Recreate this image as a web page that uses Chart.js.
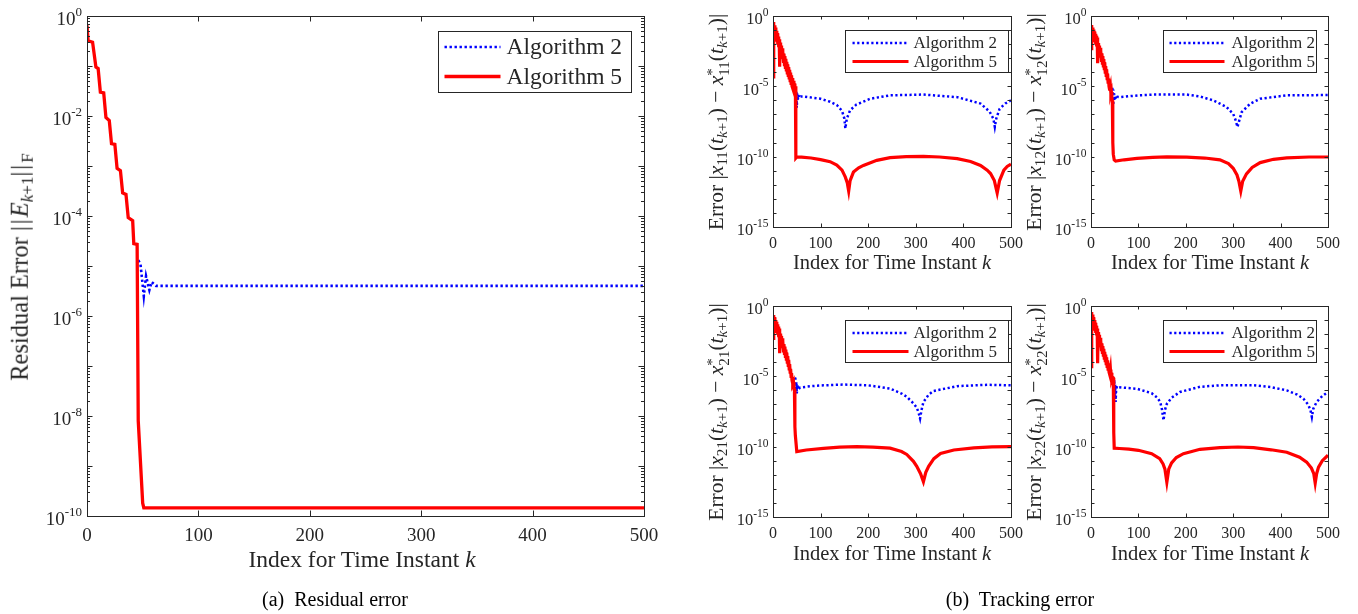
<!DOCTYPE html>
<html>
<head>
<meta charset="utf-8">
<script src="https://cdn.jsdelivr.net/npm/chart.js@4.4.1/dist/chart.umd.min.js"></script>
<style>
  body { margin: 0; width: 1358px; height: 614px; position: relative; overflow: hidden; background: #fff;
         font-family: "Liberation Serif", "Times New Roman", serif; color: #262626; }
  .frame { position: absolute; }
  .t { position: absolute; white-space: nowrap; line-height: 1; transform: translate(-50%, -50%); }
  .rot { transform: translate(-50%, -50%) rotate(-90deg); }
  sub { font-size: 70%; vertical-align: -0.3em; line-height: 0; }
  .ss { display: inline-block; font-size: 70%; line-height: 0.8; vertical-align: -0.42em; }
  .ss span { display: block; }
  .bars { letter-spacing: 0.08em; }
  .cap { color: #000; }
</style>
</head>
<body>
<div class="frame" id="fa" style="left:0;top:0;width:690px;height:585px"><canvas id="ca"></canvas></div>
<div class="frame" id="f11" style="left:690px;top:0;width:345px;height:290px"><canvas id="c11"></canvas></div>
<div class="frame" id="f12" style="left:1030px;top:0;width:328px;height:290px"><canvas id="c12"></canvas></div>
<div class="frame" id="f21" style="left:690px;top:290px;width:345px;height:300px"><canvas id="c21"></canvas></div>
<div class="frame" id="f22" style="left:1030px;top:290px;width:328px;height:300px"><canvas id="c22"></canvas></div>

<div class="t rot" style="left:20px;top:267px;font-size:24.5px">Residual Error <span class="bars">||</span><i>E</i><sub><i>k</i>+1</sub><span class="bars">||</span><sub>F</sub></div>
<div class="t" style="left:362px;top:560px;font-size:23.5px">Index for Time Instant <i>k</i></div>
<div class="t cap" style="left:335px;top:599px;font-size:20px">(a)&nbsp; Residual error</div>
<div class="t cap" style="left:1020px;top:599px;font-size:20px">(b)&nbsp; Tracking error</div>

<div class="t" style="left:892px;top:262px;font-size:20.5px">Index for Time Instant <i>k</i></div>
<div class="t" style="left:1210px;top:262px;font-size:20.5px">Index for Time Instant <i>k</i></div>
<div class="t" style="left:892px;top:553px;font-size:20.5px">Index for Time Instant <i>k</i></div>
<div class="t" style="left:1210px;top:553px;font-size:20.5px">Index for Time Instant <i>k</i></div>

<div class="t rot" style="left:718px;top:122px;font-size:21.5px">Error |<i>x</i><sub>11</sub>(<i>t</i><sub><i>k</i>+1</sub>) &minus; <i>x</i><span class="ss"><span>*</span><span>11</span></span>(<i>t</i><sub><i>k</i>+1</sub>)|</div>
<div class="t rot" style="left:1036px;top:122px;font-size:21.5px">Error |<i>x</i><sub>12</sub>(<i>t</i><sub><i>k</i>+1</sub>) &minus; <i>x</i><span class="ss"><span>*</span><span>12</span></span>(<i>t</i><sub><i>k</i>+1</sub>)|</div>
<div class="t rot" style="left:718px;top:412px;font-size:21.5px">Error |<i>x</i><sub>21</sub>(<i>t</i><sub><i>k</i>+1</sub>) &minus; <i>x</i><span class="ss"><span>*</span><span>21</span></span>(<i>t</i><sub><i>k</i>+1</sub>)|</div>
<div class="t rot" style="left:1036px;top:412px;font-size:21.5px">Error |<i>x</i><sub>22</sub>(<i>t</i><sub><i>k</i>+1</sub>) &minus; <i>x</i><span class="ss"><span>*</span><span>22</span></span>(<i>t</i><sub><i>k</i>+1</sub>)|</div>

<script>
// ---- data: [k, value] pairs ----
const kTicks = [0, 100, 200, 300, 400, 500];
const seriesNames = ["Algorithm 2", "Algorithm 5"];
const resLabels = [1e0, 1e-2, 1e-4, 1e-6, 1e-8, 1e-10];
const errLabels = [1e0, 1e-5, 1e-10, 1e-15];

// residual error ||E_{k+1}||_F
const resAlg2 = [[46,1.3e-5],[48,1.1e-5],[51,2.5e-6],[53,6.3e-6],[56,3.3e-6],[58,4.8e-6],[62,4e-6],[500,4e-6]];
const resAlg5 = [[0,0.65],[1,0.32],[5,0.30],[8,0.095],[10,0.089],[12,0.030],[15,0.029],[17,0.0093],[20,0.0081],
  [22,0.0028],[25,0.0027],[27,9e-4],[30,8.1e-4],[32,2.9e-4],[35,2.7e-4],[37,9.3e-5],[41,8.1e-5],[42,2.8e-5],
  [45,2.7e-5],[46,8e-9],[50,1.8e-10],[51,1.45e-10],[500,1.45e-10]];

// tracking error, entry (1,1)
const x11Alg2 = [[47,8e-6],[48,1.5e-6],[49,5e-6],[50,3e-7],[51,3e-6],[52,1e-6],[53,2.4e-6],[55,1.5e-6],[58,1.9e-6],
  [64,1.9e-6],[100,1.3e-6],[120,8e-7],[134,4.7e-7],[145,1.8e-7],[150,5e-8],[152,1e-8],[155,5e-8],[162,2e-7],
  [175,5e-7],[204,1.3e-6],[246,2.3e-6],[316,2.6e-6],[387,1.7e-6],[436,6e-7],[455,1.6e-7],[463,5e-8],[466,1.3e-8],
  [469,5e-8],[476,2.5e-7],[488,6e-7],[500,1e-6]];
const x11Alg5 = [[0,4.6e-5],[1,0.37],[2,0.06],[3,0.22],[4,0.04],[5,0.15],[6,0.025],[7,0.09],[8,0.015],[9,0.06],
  [10,0.01],[11,0.035],[12,0.006],[13,0.022],[14,2.5e-4],[15,0.013],[16,0.0025],[17,0.008],[18,0.0015],[19,0.005],
  [20,9e-4],[21,0.0032],[22,6e-4],[23,0.0021],[24,3.5e-4],[25,0.0014],[26,2.2e-4],[27,9e-4],[28,1.5e-4],[29,5.5e-4],
  [30,9e-5],[31,3.6e-4],[32,6e-5],[33,2.3e-4],[34,4e-5],[35,1.5e-4],[36,2.5e-5],[37,9.5e-5],[38,1.6e-5],[39,6e-5],
  [40,1e-5],[41,3.9e-5],[42,7e-6],[43,2.5e-5],[44,5e-6],[45,1.6e-5],[46,4e-6],[47,1e-5],[48,8e-11],[50,9.5e-11],
  [60,9.3e-11],[80,8e-11],[100,6.2e-11],[120,4.4e-11],[134,2.5e-11],[145,1.1e-11],[152,3.5e-12],[156,1.4e-12],
  [159,3.6e-13],[162,2e-12],[169,8e-12],[180,1.6e-11],[190,2.4e-11],[218,5.5e-11],[246,8.5e-11],[280,1e-10],
  [316,1.05e-10],[350,9.5e-11],[387,7.2e-11],[415,4.5e-11],[436,2.4e-11],[450,1.1e-11],[457,6.3e-12],[465,2e-12],
  [471,2.6e-13],[476,2e-12],[485,1.1e-11],[492,2e-11],[500,2.9e-11]];

// tracking error, entry (1,2)
const x12Alg2 = [[45,8e-6],[46,2e-6],[47,6e-6],[48,6e-7],[49,3e-6],[50,1e-6],[51,2.2e-6],[53,1.2e-6],[56,1.8e-6],
  [62,1.7e-6],[100,2.3e-6],[132,2.6e-6],[202,2.6e-6],[230,1.9e-6],[258,1e-6],[286,3.4e-7],[300,1.1e-7],[305,4e-8],
  [309,1.3e-8],[313,4e-8],[318,1.5e-7],[336,5.9e-7],[357,1.3e-6],[413,2.3e-6],[500,2.4e-6]];
const x12Alg5 = [[0,4.8e-3],[1,0.23],[2,0.02],[3,0.15],[4,0.03],[5,0.11],[6,0.02],[7,0.08],[8,0.014],[9,0.055],
  [10,0.01],[11,0.04],[12,0.007],[13,0.03],[14,4.4e-4],[15,0.012],[16,0.003],[17,0.008],[18,0.0018],[19,0.0055],
  [20,0.0011],[21,0.0035],[22,7e-4],[23,0.0022],[24,4.5e-4],[25,0.0014],[26,2.8e-4],[27,8.5e-4],[28,1.8e-4],
  [29,5e-4],[30,1e-4],[31,2.8e-4],[32,6e-5],[33,1.6e-4],[34,3.5e-5],[35,8e-5],[36,2e-5],[37,3.5e-5],[38,1e-5],
  [39,1.8e-5],[40,5e-6],[41,9e-6],[42,3e-6],[43,4e-6],[44,1.4e-6],[45,1e-6],[46,1e-9],[47,1.5e-10],[49,5.8e-11],
  [52,4.8e-11],[70,6e-11],[97,7.5e-11],[130,9e-11],[160,9.7e-11],[202,9.3e-11],[240,8e-11],[272,6e-11],[290,3.2e-11],
  [300,1.5e-11],[308,5e-12],[312,1.8e-12],[316,3.6e-13],[320,1.8e-12],[328,6e-12],[340,1.7e-11],[357,3.8e-11],
  [385,6.5e-11],[413,8.3e-11],[460,9.5e-11],[500,9.5e-11]];

// tracking error, entry (2,1)
const x21Alg2 = [[46,8e-6],[47,6.9e-6],[48,1e-6],[49,4e-6],[50,6e-7],[51,2.5e-6],[53,1.2e-6],[57,1.6e-6],[80,2e-6],
  [106,2.3e-6],[150,2.6e-6],[200,2.3e-6],[246,1.35e-6],[270,6e-7],[281,3.5e-7],[295,1.2e-7],[302,6e-8],[306,2.5e-8],
  [309,1e-8],[312,4e-8],[316,1.5e-7],[327,5e-7],[337,9e-7],[387,2e-6],[450,2.5e-6],[500,2.3e-6]];
const x21Alg5 = [[0,5e-3],[1,0.23],[2,0.025],[3,0.16],[4,0.03],[5,0.1],[6,0.02],[7,0.075],[8,0.012],[9,0.05],
  [10,0.009],[11,0.035],[12,0.006],[13,0.025],[14,4.4e-4],[15,0.011],[16,0.0028],[17,0.0075],[18,0.0017],[19,0.005],
  [20,0.001],[21,0.0033],[22,6.5e-4],[23,0.002],[24,4.2e-4],[25,0.0013],[26,2.6e-4],[27,8e-4],[28,1.7e-4],[29,4.8e-4],
  [30,1e-4],[31,2.7e-4],[32,6e-5],[33,1.5e-4],[34,3.4e-5],[35,7.5e-5],[36,2e-5],[37,3.4e-5],[38,1e-5],[39,1.7e-5],
  [40,5e-6],[41,9e-6],[42,3e-6],[43,4e-6],[44,1.5e-6],[45,1.2e-6],[46,2.6e-9],[47,6e-10],[50,4.5e-11],[70,5.8e-11],
  [106,7.5e-11],[140,9.3e-11],[176,1e-10],[210,9.3e-11],[246,7.8e-11],[270,4.5e-11],[281,2.8e-11],[295,9e-12],
  [302,4e-12],[310,1.2e-12],[316,3.2e-13],[321,1.5e-12],[327,4e-12],[338,1.4e-11],[352,3.3e-11],[380,5.8e-11],
  [422,8.2e-11],[460,9.6e-11],[500,1e-10]];

// tracking error, entry (2,2)
const x22Alg2 = [[47,6e-6],[48,1.5e-6],[49,5.8e-6],[50,4e-7],[51,2.5e-6],[52,1.5e-7],[53,1.2e-6],[55,2e-6],[58,1.7e-6],
  [97,1.3e-6],[128,6.3e-7],[140,3e-7],[146,1.5e-7],[150,4e-8],[153,7.4e-9],[156,4e-8],[160,1.1e-7],[170,3e-7],
  [188,7.8e-7],[230,1.8e-6],[272,2.3e-6],[343,2.3e-6],[380,1.7e-6],[413,1e-6],[435,5e-7],[448,2.6e-7],[458,1e-7],
  [463,4e-8],[466,1.3e-8],[469,5e-8],[476,1.5e-7],[488,4e-7],[500,7.8e-7]];
const x22Alg5 = [[0,4.9e-5],[1,0.38],[2,0.05],[3,0.25],[4,0.04],[5,0.16],[6,0.028],[7,0.1],[8,0.018],[9,0.065],
  [10,0.012],[11,0.04],[12,0.008],[13,0.025],[14,8.5e-5],[15,0.014],[16,0.003],[17,0.009],[18,0.002],[19,0.0055],
  [20,0.0012],[21,0.0035],[22,8e-4],[23,0.0022],[24,5e-4],[25,0.0014],[26,3.2e-4],[27,9e-4],[28,2e-4],[29,5.5e-4],
  [30,1.3e-4],[31,3.5e-4],[32,8e-5],[33,2.2e-4],[34,5e-5],[35,1.4e-4],[36,3.2e-5],[37,8.5e-5],[38,2e-5],[39,5e-5],
  [40,1.3e-5],[41,3e-5],[42,9e-6],[43,1.8e-5],[44,7e-6],[45,9e-6],[47,8e-6],[48,1e-9],[49,7.8e-11],[60,7.4e-11],
  [80,6.6e-11],[100,5.5e-11],[128,3.2e-11],[145,1.4e-11],[152,6e-12],[156,2.5e-12],[160,3e-13],[164,2.5e-12],
  [170,7e-12],[180,1.7e-11],[195,3.2e-11],[230,6.5e-11],[272,8.5e-11],[310,9.5e-11],[343,8.5e-11],[380,6e-11],
  [413,4e-11],[440,1.8e-11],[455,8e-12],[465,3e-12],[470,1.2e-12],[473,2.6e-13],[476,1.2e-12],[480,3.5e-12],
  [488,1e-11],[500,2.5e-11]];

// ---- styling ----
const AXIS = "#262626";
const SERIF = '"Liberation Serif", "Times New Roman", serif';
const BLUE = "#0000ff", RED = "#ff0000";

// MATLAB-like box: inward ticks on all four sides, 10^n labels, framed legend
const matlabAxes = {
  id: "matlabAxes",
  afterDatasetsDraw(chart, args, o) {
    const { ctx, chartArea: a, scales: { x, y } } = chart;
    ctx.save();
    ctx.strokeStyle = AXIS;
    ctx.lineWidth = 1;
    ctx.beginPath();
    for (const t of x.ticks) {
      const px = Math.round(x.getPixelForValue(t.value)) + 0.5;
      ctx.moveTo(px, a.bottom); ctx.lineTo(px, a.bottom - o.tickLen);
      ctx.moveTo(px, a.top); ctx.lineTo(px, a.top + o.tickLen);
    }
    y.ticks.forEach((t, i) => {
      const py = Math.round(y.getPixelForValue(t.value)) + 0.5;
      ctx.moveTo(a.left, py); ctx.lineTo(a.left + o.tickLen, py);
      ctx.moveTo(a.right, py); ctx.lineTo(a.right - o.tickLen, py);
      // minor ticks 2..9 inside the decade below this one
      if (o.minor && i < y.ticks.length - 1) {
        for (let m = 2; m <= 9; m++) {
          const pm = Math.round(y.getPixelForValue(t.value / 10 * m)) + 0.5;
          ctx.moveTo(a.left, pm); ctx.lineTo(a.left + o.minor, pm);
          ctx.moveTo(a.right, pm); ctx.lineTo(a.right - o.minor, pm);
        }
      }
    });
    ctx.stroke();
    ctx.strokeRect(Math.round(a.left) + 0.5, Math.round(a.top) + 0.5,
                   Math.round(a.right - a.left), Math.round(a.bottom - a.top));

    // y tick labels as 10 with a raised exponent
    ctx.fillStyle = AXIS;
    ctx.textAlign = "right";
    ctx.textBaseline = "middle";
    for (const v of o.labels) {
      const py = y.getPixelForValue(v);
      const ex = String(Math.round(Math.log10(v)));
      ctx.font = `${o.expSize}px ${SERIF}`;
      const w = ctx.measureText(ex).width;
      ctx.fillText(ex, a.left - o.labelGap, py - o.expRise);
      ctx.font = `${o.baseSize}px ${SERIF}`;
      ctx.fillText("10", a.left - o.labelGap - w, py + o.baseDrop);
    }

    // legend
    const L = o.legend;
    const bx = Math.round(a.right - L.right - L.width) + 0.5;
    const by = Math.round(a.top + L.top) + 0.5;
    ctx.fillStyle = "#fff";
    ctx.fillRect(bx, by, L.width, L.height);
    ctx.strokeStyle = AXIS;
    ctx.lineWidth = 1;
    ctx.strokeRect(bx, by, L.width, L.height);
    chart.data.datasets.forEach((ds, i) => {
      const ry = by + L.rows[i];
      ctx.strokeStyle = ds.borderColor;
      ctx.lineWidth = ds.borderWidth;
      ctx.setLineDash(ds.borderDash || []);
      ctx.beginPath();
      ctx.moveTo(bx + L.line[0], ry);
      ctx.lineTo(bx + L.line[1], ry);
      ctx.stroke();
      ctx.setLineDash([]);
      ctx.fillStyle = AXIS;
      ctx.font = `${L.size}px ${SERIF}`;
      ctx.textAlign = "left";
      ctx.textBaseline = "middle";
      ctx.fillText(ds.label, bx + L.textX, ry + 1);
    });
    ctx.restore();
  }
};

const toXY = (pairs) => pairs.map(([k, v]) => ({ x: k, y: v }));

function drawPanel(canvasId, frame, plot, alg2, alg5, s) {
  const frameEl = document.getElementById(canvasId).parentNode;
  const fw = frameEl.clientWidth, fh = frameEl.clientHeight;
  return new Chart(document.getElementById(canvasId), {
    type: "line",
    data: {
      datasets: [
        { label: seriesNames[0], data: toXY(alg2), borderColor: BLUE, borderWidth: s.dotWidth,
          borderDash: s.dash, borderCapStyle: "butt", pointRadius: 0, tension: 0, order: 1 },
        { label: seriesNames[1], data: toXY(alg5), borderColor: RED, borderWidth: s.redWidth,
          pointRadius: 0, tension: 0, order: 0 },
      ],
    },
    options: {
      responsive: true, maintainAspectRatio: false, animation: false,
      layout: { padding: { left: 0, top: plot.top - frame.top, right: frame.left + fw - plot.right, bottom: 0 } },
      plugins: {
        legend: { display: false }, tooltip: { enabled: false },
        matlabAxes: s.axes,
      },
      scales: {
        x: {
          type: "linear", min: 0, max: 500,
          afterBuildTicks: (sc) => { sc.ticks = kTicks.map((v) => ({ value: v })); },
          afterFit: (sc) => { sc.height = frame.top + fh - plot.bottom; },
          ticks: { autoSkip: false, maxRotation: 0, padding: s.xPad, color: AXIS, font: { family: SERIF, size: s.xSize } },
          grid: { display: false, drawTicks: false }, border: { display: false },
        },
        y: {
          type: "logarithmic", min: parseFloat(`1e${s.yMinExp}`), max: 1,
          afterBuildTicks: (sc) => {
            const t = [];
            for (let e = 0; e >= s.yMinExp; e--) t.push({ value: parseFloat(`1e${e}`) });
            sc.ticks = t;
          },
          afterFit: (sc) => { sc.width = plot.left - frame.left; },
          ticks: { display: false },
          grid: { display: false, drawTicks: false }, border: { display: false },
        },
      },
    },
    plugins: [matlabAxes],
  });
}

const bigStyle = {
  yMinExp: -10, dotWidth: 2.6, dash: [2.4, 2.6], redWidth: 3.3, xPad: 9, xSize: 19,
  axes: { tickLen: 5.5, minor: 3, labels: resLabels, labelGap: 5, baseSize: 19, expSize: 13, expRise: 3, baseDrop: 4,
          legend: { right: 13, top: 15, width: 193, height: 61, rows: [15.5, 45], line: [6, 62], textX: 68, size: 23.5 } },
};
const smallStyle = (legRight, legWidth, legLine, legText) => ({
  yMinExp: -15, dotWidth: 2.5, dash: [2.2, 2.5], redWidth: 3.2, xPad: 7, xSize: 16,
  axes: { tickLen: 3.5, minor: 0, labels: errLabels, labelGap: 4.5, baseSize: 16.5, expSize: 11.5, expRise: 3, baseDrop: 4,
          legend: { right: legRight, top: 13.5, width: legWidth, height: 42, rows: [12.5, 31], line: legLine, textX: legText, size: 17 } },
});

drawPanel("ca", { left: 0, top: 0 }, { left: 87, top: 16, right: 644, bottom: 516 }, resAlg2, resAlg5, bigStyle);
drawPanel("c11", { left: 690, top: 0 }, { left: 773, top: 16, right: 1011, bottom: 227 }, x11Alg2, x11Alg5, smallStyle(3, 163, [7, 63], 68));
drawPanel("c12", { left: 1030, top: 0 }, { left: 1091, top: 16, right: 1328, bottom: 227 }, x12Alg2, x12Alg5, smallStyle(12, 153, [6, 61], 68));
drawPanel("c21", { left: 690, top: 290 }, { left: 773, top: 306, right: 1011, bottom: 517 }, x21Alg2, x21Alg5, smallStyle(3, 163, [7, 63], 68));
drawPanel("c22", { left: 1030, top: 290 }, { left: 1091, top: 306, right: 1328, bottom: 517 }, x22Alg2, x22Alg5, smallStyle(12, 153, [6, 61], 68));
</script>
</body>
</html>
